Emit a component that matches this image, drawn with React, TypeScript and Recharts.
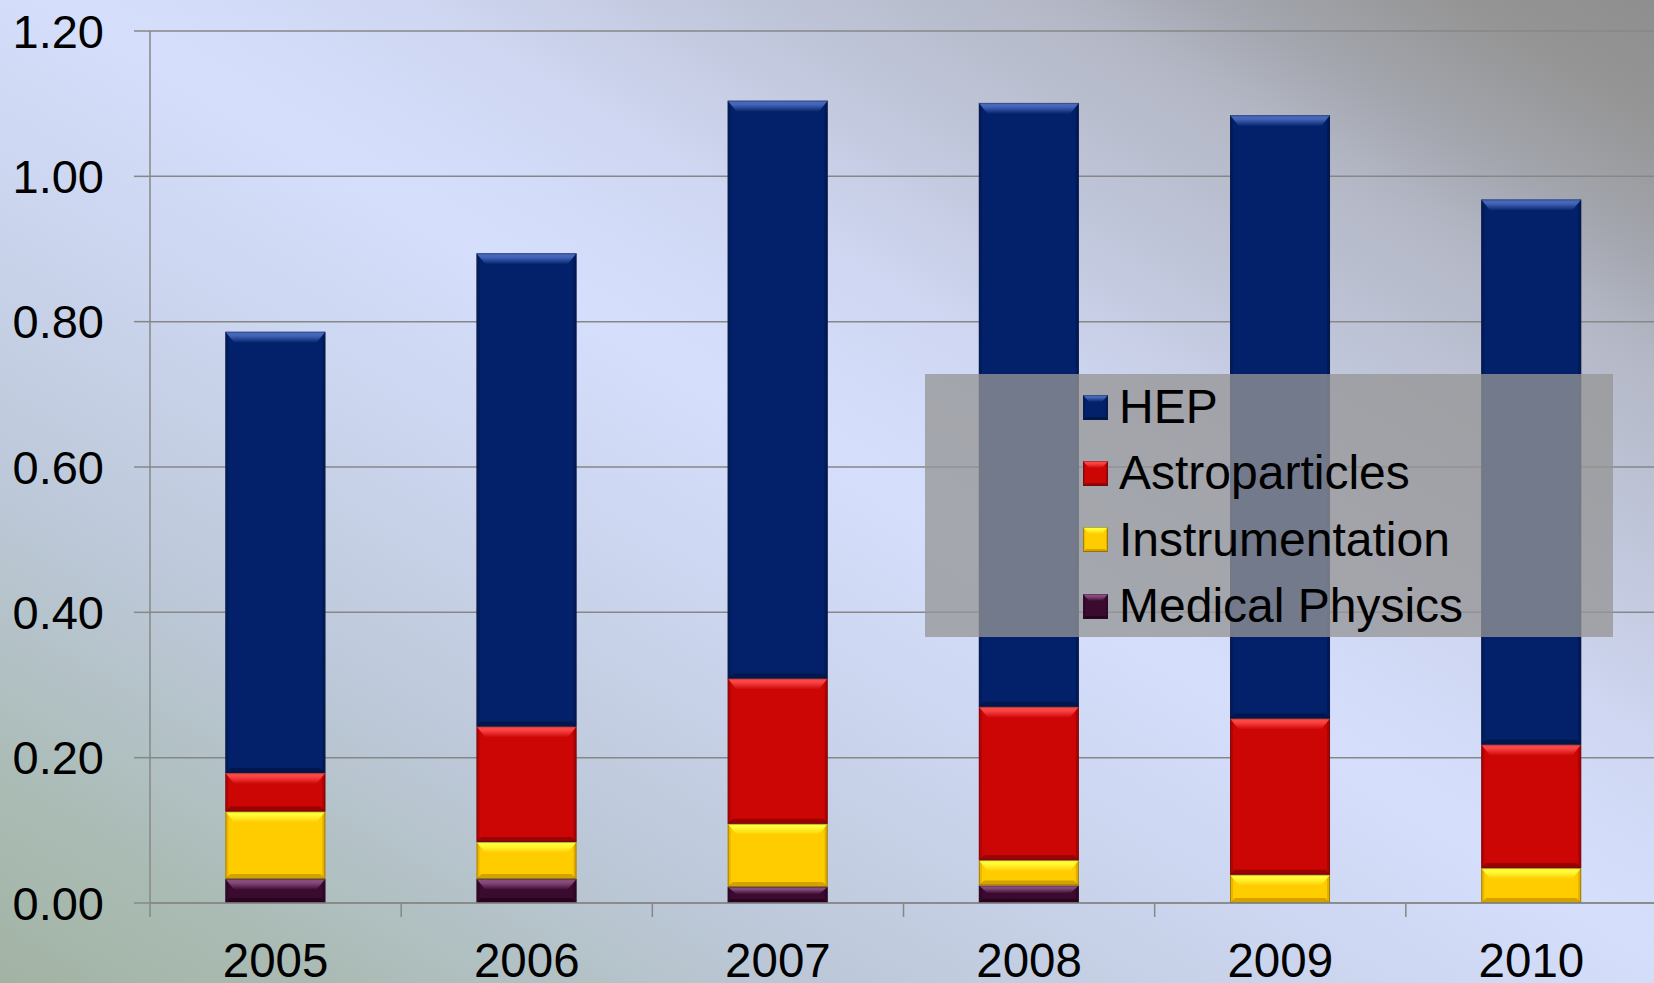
import React from 'react';
import { BarChart, Bar, XAxis, YAxis, CartesianGrid, Legend } from 'recharts';

// ---- Data ----
const years = ['2005', '2006', '2007', '2008', '2009', '2010'];
const hep = [0.607, 0.651, 0.795, 0.831, 0.830, 0.750];
const astroparticles = [0.053, 0.159, 0.200, 0.211, 0.215, 0.170];
const instrumentation = [0.093, 0.051, 0.087, 0.035, 0.039, 0.048];
const medicalPhysics = [0.033, 0.033, 0.022, 0.024, 0, 0];
const yTicks = [0, 0.2, 0.4, 0.6, 0.8, 1.0, 1.2];

const seriesNames = ['HEP', 'Astroparticles', 'Instrumentation', 'Medical Physics'];

const data = years.map((year, i) => ({
  year,
  hep: hep[i],
  astro: astroparticles[i],
  instr: instrumentation[i],
  med: medicalPhysics[i],
}));

// ---- Styles ----
type Style = { key: string; name: string; base: string; light: string; dark: string };
const styles: Style[] = [
  { key: 'med', name: seriesNames[3], base: '#3b0a2f', light: '#8c5080', dark: '#1e0016' },
  { key: 'instr', name: seriesNames[2], base: '#ffcc00', light: '#ffff3a', dark: '#b88600' },
  { key: 'astro', name: seriesNames[1], base: '#cc0505', light: '#ff4a4a', dark: '#7a0000' },
  { key: 'hep', name: seriesNames[0], base: '#02216a', light: '#4a6cc0', dark: '#00103a' },
];

const FONT = '"Liberation Sans", Arial, Helvetica, sans-serif';
const W = 1654;
const H = 983;
const CHART_W = 1660;
const MARGIN = { top: 31, right: 3, bottom: 0, left: 0 };
const Y_AXIS_W = 150;
const X_AXIS_H = 80;
const PLOT_W = CHART_W - MARGIN.left - MARGIN.right - Y_AXIS_W;
const AXIS_COLOR = '#878787';

function bevel(x: number, y: number, w: number, h: number, s: Style, small = false) {
  if (!(h > 0.5) || !(w > 0)) return <g />;
  const t = Math.min(small ? 7 : 11, h * 0.45);
  const ti = Math.min(small ? 6 : 9, w / 2);
  const d = Math.min(small ? 3 : 5, h * 0.25);
  const si = small ? 2 : 3;
  return (
    <g>
      <rect x={x} y={y} width={w} height={h} fill={s.base} />
      <rect x={x} y={y} width={si} height={h} fill={s.dark} opacity={0.3} />
      <rect x={x + w - si} y={y} width={si} height={h} fill={s.dark} opacity={0.4} />
      <polygon
        points={`${x},${y + h} ${x + w},${y + h} ${x + w - d},${y + h - d} ${x + d},${y + h - d}`}
        fill={s.dark}
        opacity={0.6}
      />
      <polygon
        points={`${x},${y} ${x + w},${y} ${x + w - ti},${y + t} ${x + ti},${y + t}`}
        fill={`url(#top-${s.key})`}
      />
      <rect
        x={x + 0.5}
        y={y + 0.5}
        width={Math.max(0, w - 1)}
        height={Math.max(0, h - 1)}
        fill="none"
        stroke="rgba(30,30,40,0.35)"
        strokeWidth={1}
      />
    </g>
  );
}

const makeShape = (s: Style) => (props: any) => {
  const { x, y, width, height } = props;
  return bevel(Number(x), Number(y), Number(width), Number(height), s);
};

const YearTick = (props: any) => {
  const { x, y, payload } = props;
  const half = payload && payload.offset ? payload.offset : PLOT_W / years.length / 2;
  return (
    <g>
      <line x1={x - half} x2={x - half} y1={y} y2={y + 14} stroke={AXIS_COLOR} strokeWidth={1.5} />
      <text x={x} y={y + 74} textAnchor="middle" fill="#000" fontSize={47.5} fontFamily={FONT}>
        {payload.value}
      </text>
    </g>
  );
};

const renderLegend = () => {
  const items = [...styles].reverse();
  return (
    <div
      style={{
        width: '100%',
        height: '100%',
        boxSizing: 'border-box',
        background: 'rgba(150,150,150,0.77)',
        paddingLeft: 158,
        fontFamily: FONT,
      }}
    >
      {items.map((s) => (
        <div key={s.key} style={{ display: 'flex', alignItems: 'center', height: 66.3 }}>
          <svg width={25} height={25} style={{ marginRight: 11, flex: 'none' }}>
            {bevel(0, 0, 25, 25, s, true)}
          </svg>
          <span style={{ fontSize: 48, lineHeight: 1, color: '#000', whiteSpace: 'nowrap' }}>{s.name}</span>
        </div>
      ))}
    </div>
  );
};

export default function App() {
  return (
    <div
      style={{
        position: 'absolute',
        left: 0,
        top: 0,
        width: W,
        height: H,
        overflow: 'hidden',
        background:
          'linear-gradient(to top right, #a2b3a4 0%, #aabbb4 10%, #bcc8d8 25%, #cbd5ee 40%, #d5dffc 52%, #cfd7f2 62%, #c0c6da 72%, #b3b7c5 82%, #a3a6ae 87%, #959595 94%, #8e8e8e 100%)',
      }}
    >
      <BarChart width={CHART_W} height={H} data={data} margin={MARGIN} barCategoryGap="30%">
        <defs>
          {styles.map((s) => (
            <linearGradient key={s.key} id={`top-${s.key}`} x1="0" y1="0" x2="0" y2="1">
              <stop offset="0%" stopColor={s.light} />
              <stop offset="35%" stopColor={s.light} stopOpacity={0.9} />
              <stop offset="100%" stopColor={s.base} />
            </linearGradient>
          ))}
        </defs>
        <CartesianGrid vertical={false} stroke={AXIS_COLOR} strokeWidth={1.5} />
        <XAxis
          dataKey="year"
          interval={0}
          height={X_AXIS_H}
          tickLine={false}
          tickSize={0}
          tickMargin={0}
          axisLine={{ stroke: AXIS_COLOR, strokeWidth: 1.5 }}
          tick={<YearTick />}
        />
        <YAxis
          width={Y_AXIS_W}
          domain={[0, 1.2]}
          ticks={yTicks}
          interval={0}
          tickFormatter={(v: number) => v.toFixed(2)}
          tick={{ fill: '#000', fontSize: 47, fontFamily: FONT }}
          tickSize={16}
          tickMargin={30}
          tickLine={{ stroke: AXIS_COLOR, strokeWidth: 1.5 }}
          axisLine={{ stroke: AXIS_COLOR, strokeWidth: 1.5 }}
        />
        <Legend
          layout="vertical"
          align="center"
          verticalAlign="middle"
          width={688}
          height={263}
          wrapperStyle={{ left: 925, top: 374, width: 688, height: 263 }}
          content={renderLegend}
        />
        {styles.map((s) => (
          <Bar
            key={s.key}
            dataKey={s.key}
            name={s.name}
            stackId="a"
            fill={s.base}
            isAnimationActive={false}
            shape={makeShape(s)}
          />
        ))}
      </BarChart>
    </div>
  );
}
